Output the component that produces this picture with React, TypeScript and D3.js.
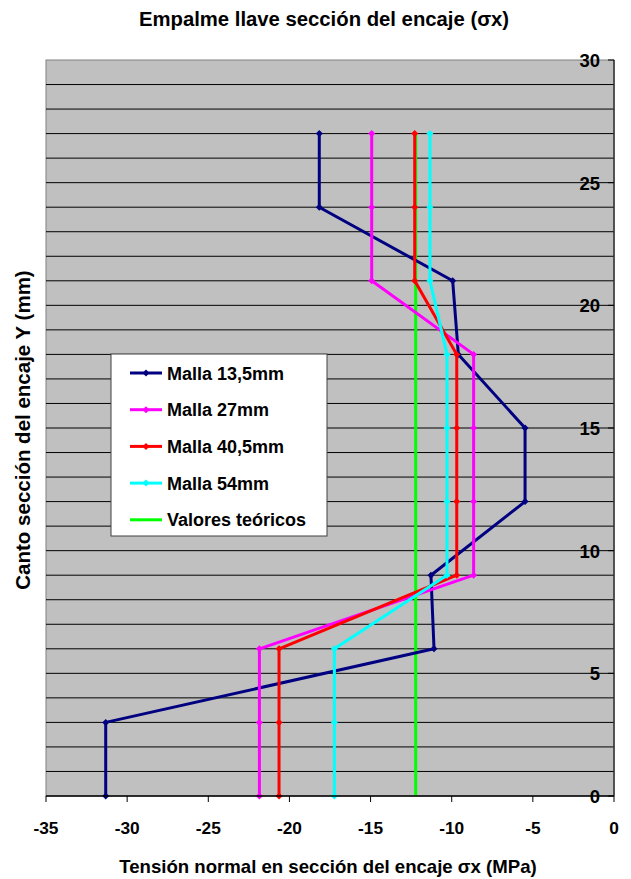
import React from "react";
import * as d3 from "d3";

const yLevels = [27, 24, 21, 18, 15, 12, 9, 6, 3, 0];
const malla135 = [-18.16, -18.16, -9.94, -9.59, -5.48, -5.48, -11.28, -11.09, -31.32, -31.32];
const malla27 = [-14.93, -14.93, -14.93, -8.65, -8.65, -8.65, -8.65, -21.85, -21.85, -21.85];
const malla405 = [-12.28, -12.28, -12.28, -9.69, -9.69, -9.69, -9.69, -20.64, -20.64, -20.64];
const malla54 = [-11.34, -11.34, -11.34, -10.29, -10.29, -10.29, -10.29, -17.23, -17.23, -17.23];
const teoricoY = [27, 0];
const teoricoX = [-12.22, -12.22];

const xTicks = [-35, -30, -25, -20, -15, -10, -5, 0];
const yTicks = [0, 5, 10, 15, 20, 25, 30];
const gridY = d3.range(1, 30);

const seriesNames = ["Malla 13,5mm", "Malla 27mm", "Malla 40,5mm", "Malla 54mm", "Valores teóricos"];
const seriesColors = ["#000080", "#FF00FF", "#FF0000", "#00FFFF", "#00FF00"];

const title = "Empalme llave sección del encaje (σx)";
const xTitle = "Tensión normal en sección del encaje σx (MPa)";
const yTitle = "Canto sección del encaje Y (mm)";

const W = 631;
const H = 879;
const L = 46, R = 614, T = 60, B = 796;
const FONT = "'Liberation Sans', Arial, sans-serif";

export default function App() {
  const x = d3.scaleLinear().domain([-35, 0]).range([L, R]);
  const y = d3.scaleLinear().domain([0, 30]).range([B, T]);
  const line = d3.line<[number, number]>().x((d) => x(d[0])).y((d) => y(d[1]));

  const data = [malla135, malla27, malla405, malla54].map((vals) =>
    vals.map((v, i) => [v, yLevels[i]] as [number, number])
  );
  const teo = teoricoX.map((v, i) => [v, teoricoY[i]] as [number, number]);

  const diamond = (cx: number, cy: number, r: number) =>
    `M${cx},${cy - r}L${cx + r},${cy}L${cx},${cy + r}L${cx - r},${cy}Z`;

  const legX = 111, legY = 354, legW = 216, legH = 182;
  const rowY = (i: number) => 373 + i * 36.7;

  return (
    <svg width={W} height={H} style={{ position: "absolute", left: 0, top: 0, background: "#fff" }} fontFamily={FONT}>
      <rect x={0} y={0} width={W} height={H} fill="#fff" />
      <text x={324} y={26} textAnchor="middle" fontSize={20.3} fontWeight="bold">{title}</text>
      <rect x={L} y={T} width={R - L} height={B - T} fill="#C0C0C0" stroke="#808080" strokeWidth={1} />
      {gridY.map((g) => (
        <line key={g} x1={L} x2={R} y1={y(g)} y2={y(g)} stroke="#000" strokeWidth={1} />
      ))}
      <path d={line(teo) || ""} fill="none" stroke={seriesColors[4]} strokeWidth={3} />
      {data.map((d, si) => (
        <g key={si}>
          <path d={line(d) || ""} fill="none" stroke={seriesColors[si]} strokeWidth={3} strokeLinejoin="round" />
          {d.map((p, pi) => (
            <path key={pi} d={diamond(x(p[0]), y(p[1]), 3.5)} fill={seriesColors[si]} />
          ))}
        </g>
      ))}
      <line x1={L} x2={R} y1={B} y2={B} stroke="#000" strokeWidth={1.5} />
      <line x1={R} x2={R} y1={T} y2={B} stroke="#333" strokeWidth={1.5} />
      {xTicks.map((t) => (
        <g key={t}>
          <line x1={x(t)} x2={x(t)} y1={B} y2={B + 6} stroke="#000" strokeWidth={1} />
          <text x={x(t)} y={834} textAnchor="middle" fontSize={17.3} fontWeight="bold">{t}</text>
        </g>
      ))}
      {yTicks.map((t) => (
        <g key={t}>
          <line x1={R - 6} x2={R} y1={y(t)} y2={y(t)} stroke="#000" strokeWidth={1} />
          <text x={600} y={y(t) + 7} textAnchor="end" fontSize={18.5} fontWeight="bold">{t}</text>
        </g>
      ))}
      <text x={328} y={873} textAnchor="middle" fontSize={18.6} fontWeight="bold">{xTitle}</text>
      <text transform={`translate(30,${(T + B) / 2 + 2}) rotate(-90)`} textAnchor="middle" fontSize={20.5} fontWeight="bold">{yTitle}</text>
      <rect x={legX} y={legY} width={legW} height={legH} fill="#fff" stroke="#404040" strokeWidth={1} />
      {seriesNames.map((n, i) => (
        <g key={n}>
          <line x1={130} x2={162} y1={rowY(i)} y2={rowY(i)} stroke={seriesColors[i]} strokeWidth={3} />
          {i < 4 && <path d={diamond(146, rowY(i), 3.5)} fill={seriesColors[i]} />}
          <text x={167} y={rowY(i) + 6.5} fontSize={18} fontWeight="bold">{n}</text>
        </g>
      ))}
    </svg>
  );
}
